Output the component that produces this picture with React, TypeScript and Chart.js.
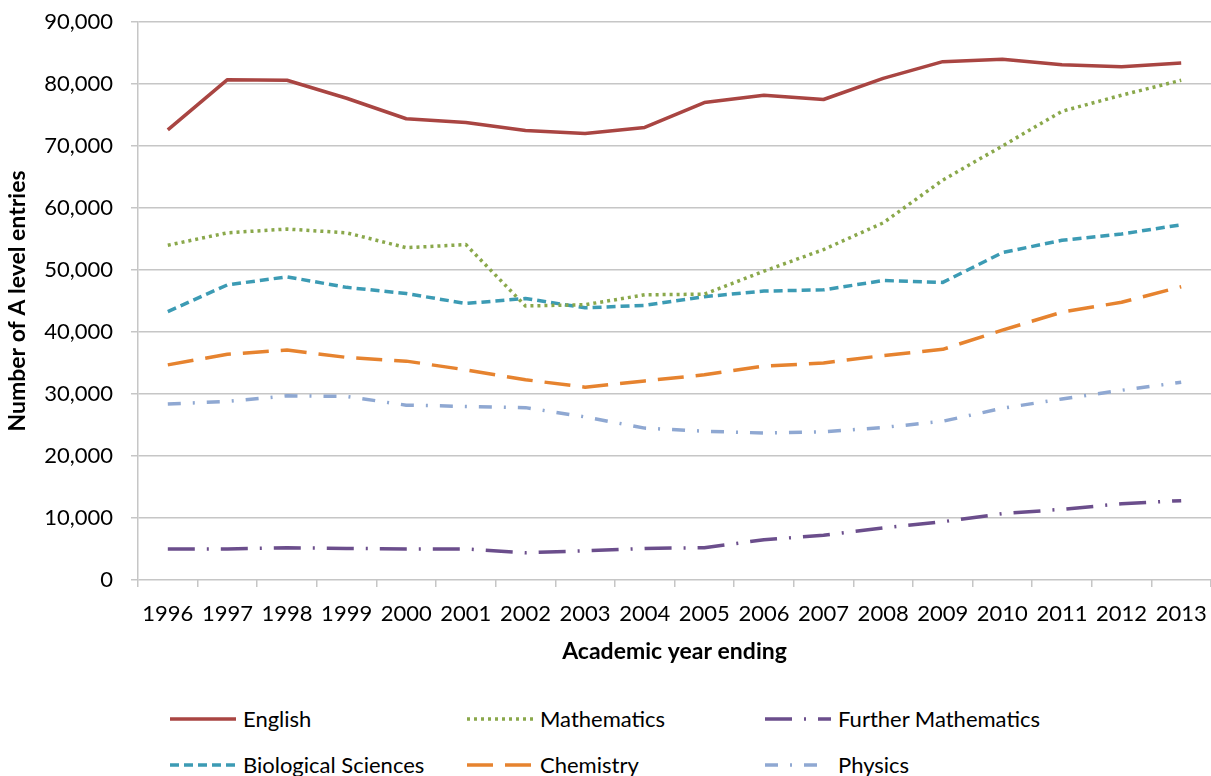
import React, { useEffect, useRef } from 'react';
import { Chart, registerables } from 'chart.js';

Chart.register(...registerables);

const years = ['1996', '1997', '1998', '1999', '2000', '2001', '2002', '2003', '2004', '2005', '2006', '2007', '2008', '2009', '2010', '2011', '2012', '2013'];

const english = [72600, 80700, 80600, 77700, 74400, 73800, 72500, 72000, 73000, 77000, 78200, 77500, 80900, 83600, 84000, 83100, 82800, 83400];
const mathematics = [54000, 56000, 56600, 56000, 53600, 54100, 44200, 44400, 46000, 46100, 49800, 53300, 57600, 64500, 70000, 75600, 78200, 80600];
const furtherMaths = [5000, 5000, 5200, 5100, 5000, 5000, 4400, 4700, 5100, 5200, 6500, 7200, 8400, 9400, 10700, 11400, 12300, 12800];
const biology = [43300, 47600, 48900, 47200, 46200, 44600, 45400, 43900, 44300, 45700, 46600, 46800, 48300, 48000, 52800, 54800, 55800, 57300];
const chemistry = [34700, 36400, 37100, 35900, 35300, 33900, 32300, 31100, 32100, 33100, 34500, 35000, 36200, 37200, 40300, 43200, 44800, 47300];
const physics = [28400, 28800, 29700, 29600, 28200, 28000, 27800, 26300, 24500, 24000, 23700, 23900, 24600, 25600, 27700, 29200, 30600, 31900];

const yTicks = [0, 10000, 20000, 30000, 40000, 50000, 60000, 70000, 80000, 90000];

const seriesNames = ['English', 'Mathematics', 'Further Mathematics', 'Biological Sciences', 'Chemistry', 'Physics'];
const seriesData = [english, mathematics, furtherMaths, biology, chemistry, physics];
const seriesColors = ['#A94542', '#8AA84B', '#6B4E8C', '#3C9BB4', '#E6832F', '#8FA8D2'];
const seriesDash = [[], [3, 4], [27, 12, 2, 12], [9, 5], [26, 12], [13, 12, 2, 12]];

const W = 1211;
const H = 669;
const FONT = 'Lato, "Open Sans", sans-serif';
const GRID = '#c6c6c6';

const legendLayout = [
  { x: 170, y: 719, w: 66 },
  { x: 467, y: 719, w: 66 },
  { x: 765, y: 719, w: 66 },
  { x: 170, y: 765, w: 66 },
  { x: 467, y: 765, w: 66 },
  { x: 765, y: 765, w: 53 },
];

export default function App() {
  const ref = useRef<HTMLCanvasElement | null>(null);

  useEffect(() => {
    const canvas = ref.current;
    if (!canvas) return;
    const chart = new Chart(canvas, {
      type: 'line',
      data: {
        labels: years,
        datasets: seriesNames.map((name, i) => ({
          label: name,
          data: seriesData[i],
          borderColor: seriesColors[i],
          backgroundColor: seriesColors[i],
          borderWidth: 3.5,
          borderDash: seriesDash[i],
          borderCapStyle: 'butt',
          borderJoinStyle: 'round',
          pointRadius: 0,
          tension: 0,
          fill: false,
        })),
      },
      options: {
        responsive: false,
        animation: false,
        layout: { padding: { top: 22, right: 0, left: 0, bottom: 0 } },
        plugins: { legend: { display: false }, tooltip: { enabled: false } },
        scales: {
          x: {
            type: 'category',
            offset: true,
            grid: { offset: true, drawOnChartArea: false, drawTicks: true, tickLength: 7, color: GRID, lineWidth: 1.5 },
            border: { display: false },
            ticks: { font: { family: FONT, size: 22 }, color: '#000', padding: 14, maxRotation: 0, autoSkip: false },
            title: {
              display: true,
              text: 'Academic year ending',
              font: { family: FONT, size: 23, weight: 'bold' },
              color: '#000',
              padding: { top: 4, bottom: 4 },
            },
            afterFit: (s: any) => {
              s.height = H - 580;
              s.paddingLeft = 0;
              s.paddingRight = 0;
            },
          },
          y: {
            min: 0,
            max: 90000,
            afterBuildTicks: (s: any) => { s.ticks = yTicks.map((v) => ({ value: v })); },
            ticks: {
              font: { family: FONT, size: 22 },
              color: '#000',
              padding: 18,
              callback: (v: any) => Number(v).toLocaleString('en-US'),
            },
            grid: { color: GRID, lineWidth: 1.5, tickLength: 7 },
            border: { color: GRID, width: 1.5 },
            title: {
              display: true,
              text: 'Number of A level entries',
              font: { family: FONT, size: 23, weight: 'bold' },
              color: '#000',
              padding: { top: 4, bottom: 4 },
            },
            afterFit: (s: any) => {
              s.width = 138;
              s.paddingTop = 0;
              s.paddingBottom = 0;
            },
          },
        },
      },
    } as any);
    return () => chart.destroy();
  }, []);

  return (
    <div style={{ position: 'absolute', left: 0, top: 0, width: W, height: 776, background: '#fff', overflow: 'hidden' }}>
      <canvas ref={ref} width={W} height={H} style={{ display: 'block', width: W, height: H }} />
      {seriesNames.map((name, i) => {
        const L = legendLayout[i];
        return (
          <div key={name} style={{ position: 'absolute', left: L.x, top: L.y - 16, height: 32, display: 'flex', alignItems: 'center', whiteSpace: 'nowrap' }}>
            <svg width={73} height={10} style={{ display: 'block' }}>
              <line x1={0} y1={5} x2={L.w} y2={5} stroke={seriesColors[i]} strokeWidth={3.5} strokeDasharray={seriesDash[i].length ? seriesDash[i].join(' ') : undefined} />
            </svg>
            <span style={{ fontFamily: FONT, fontSize: 22, color: '#000', lineHeight: '32px' }}>{name}</span>
          </div>
        );
      })}
    </div>
  );
}
